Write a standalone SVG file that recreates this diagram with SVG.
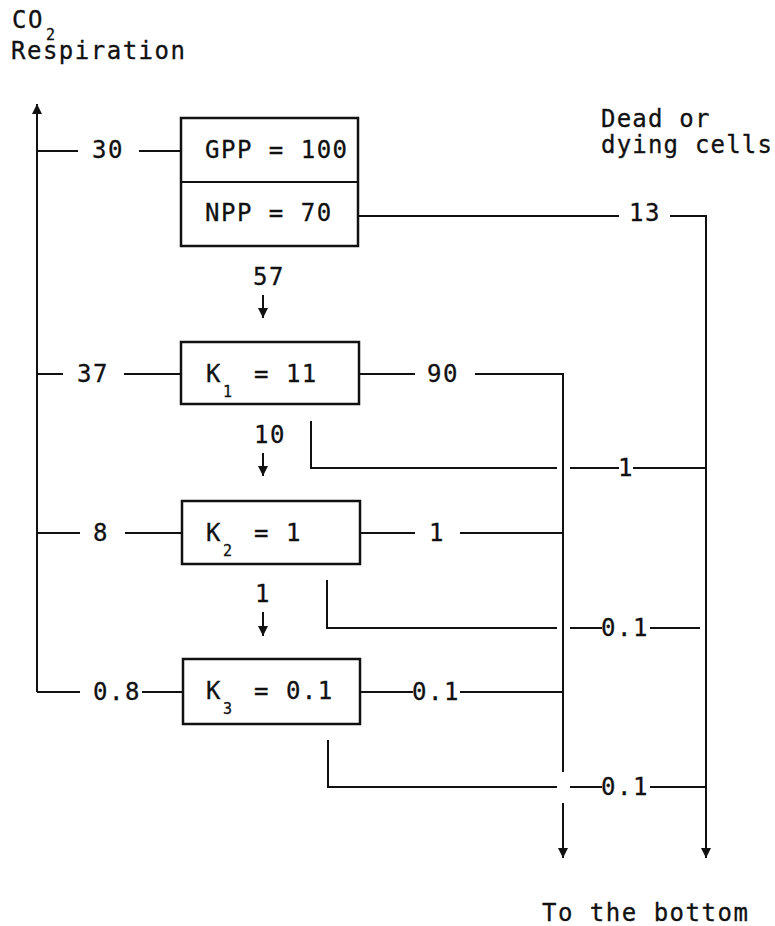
<svg xmlns="http://www.w3.org/2000/svg" width="775" height="926" viewBox="0 0 775 926">
<style>
text{font-family:"DejaVu Sans Mono","Liberation Mono",monospace;font-size:24px;letter-spacing:1.5px;fill:#111;stroke:#111;stroke-width:0.3}
.sub{font-size:15px;letter-spacing:0}
.m{text-anchor:middle}
.box{fill:#fff;stroke:#111;stroke-width:2.5}
.ln{fill:none;stroke:#111;stroke-width:2}
</style>
<defs>
<marker id="ah" markerUnits="userSpaceOnUse" markerWidth="10" markerHeight="12" refX="10" refY="5" orient="auto">
<path d="M0,0 L10,5 L0,10 Z" fill="#111"/>
</marker>
</defs>
<rect width="775" height="926" fill="#fff"/>
<g id="labels">
<text x="12" y="28">CO</text>
<text class="sub" x="46" y="40">2</text>
<text x="11" y="59">Respiration</text>
<text x="601" y="127" style="letter-spacing:1.2px">Dead or</text>
<text x="601" y="153" style="letter-spacing:1.2px">dying cells</text>
<text x="542" y="921">To the bottom</text>
</g>
<g id="connectors">
<path class="ln" d="M37,692 V104" marker-end="url(#ah)"/>
<path class="ln" d="M37,151 H78 M139,151 H181"/>
<path class="ln" d="M37,374 H63 M124,374 H181"/>
<path class="ln" d="M37,533 H80 M125,533 H182"/>
<path class="ln" d="M37,692 H80 M142,692 H183"/>
<path class="ln" d="M358,216 H619 M670,216 H706 V858" marker-end="url(#ah)"/>
<path class="ln" d="M359,374 H415 M475,374 H563 V772"/>
<path class="ln" d="M563,803 V858" marker-end="url(#ah)"/>
<path class="ln" d="M311,421 V468 H557 M570,468 H619 M633,468 H706"/>
<path class="ln" d="M360,533 H415 M460,533 H563"/>
<path class="ln" d="M327,580 V628 H557 M570,628 H602 M650,628 H700"/>
<path class="ln" d="M360,692 H413 M460,692 H563"/>
<path class="ln" d="M328,740 V787 H557 M570,787 H602 M650,787 H706"/>
<path class="ln" d="M263,295 V318" marker-end="url(#ah)"/>
<path class="ln" d="M263,453 V476" marker-end="url(#ah)"/>
<path class="ln" d="M263,612 V636" marker-end="url(#ah)"/>
<text class="m" x="108" y="158">30</text>
<text class="m" x="93" y="382">37</text>
<text class="m" x="101" y="541">8</text>
<text class="m" x="117" y="700">0.8</text>
<text class="m" x="645" y="221">13</text>
<text class="m" x="443" y="382">90</text>
<text class="m" x="437" y="541">1</text>
<text class="m" x="436" y="700">0.1</text>
<text class="m" x="626" y="476">1</text>
<text class="m" x="625" y="636">0.1</text>
<text class="m" x="625" y="795">0.1</text>
<text class="m" x="269" y="285">57</text>
<text class="m" x="270" y="443">10</text>
<text class="m" x="263" y="602">1</text>
</g>
<g id="node-gpp-npp">
<rect class="box" x="181" y="118" width="177" height="128"/>
<line class="ln" x1="181" y1="182" x2="358" y2="182" stroke-width="2.5"/>
<text x="205" y="158">GPP = 100</text>
<text x="205" y="221">NPP = 70</text>
</g>
<g id="node-k1">
<rect class="box" x="181" y="342" width="178" height="62"/>
<text x="206" y="382">K</text>
<text class="sub" x="223" y="397">1</text>
<text x="254" y="382">= 11</text>
</g>
<g id="node-k2">
<rect class="box" x="182" y="501" width="178" height="63"/>
<text x="206" y="541">K</text>
<text class="sub" x="223" y="556">2</text>
<text x="254" y="541">= 1</text>
</g>
<g id="node-k3">
<rect class="box" x="183" y="659" width="177" height="65"/>
<text x="206" y="699">K</text>
<text class="sub" x="223" y="714">3</text>
<text x="254" y="699">= 0.1</text>
</g>
</svg>
